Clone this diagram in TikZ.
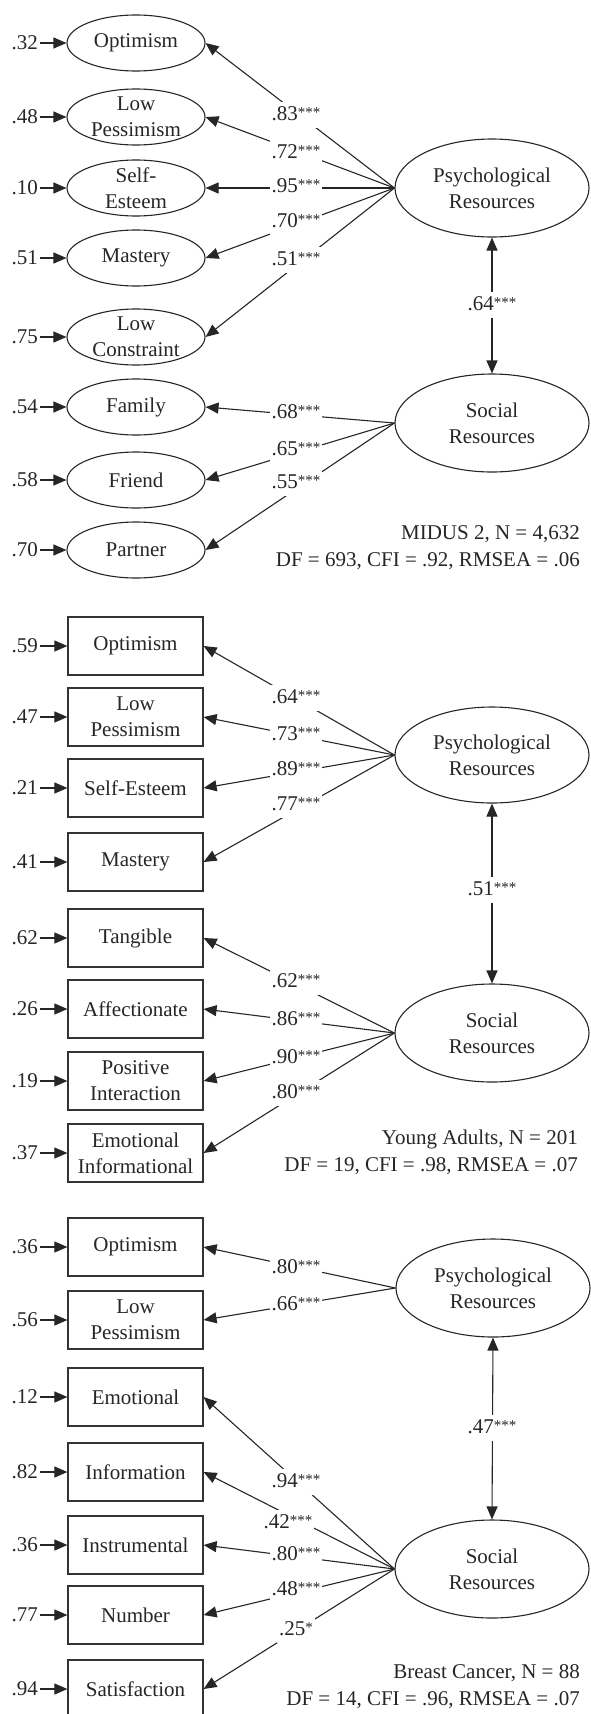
\documentclass[tikz,border=0pt]{standalone}
\usepackage{fontspec}
\setmainfont{Liberation Serif}
\usetikzlibrary{arrows.meta,calc,shapes.geometric}
\newcommand{\sigs}[1]{\raisebox{3pt}{\fontsize{15}{15}\selectfont #1}}
\begin{document}
\begin{tikzpicture}[x=1pt,y=-1pt,
  every node/.style={font=\fontsize{21}{26}\selectfont, text=black!85},
  indell/.style={ellipse, draw=black!85, line width=1.1pt, minimum width=138pt, minimum height=56pt, inner xsep=0pt, inner ysep=-3pt, align=center},
  indbox/.style={rectangle, draw=black!80, line width=1.2pt, minimum width=135pt, minimum height=58pt, inner sep=0pt, align=center},
  lat/.style={ellipse, draw=black!85, line width=1.1pt, minimum width=194pt, minimum height=98pt, inner sep=0pt, align=center},
  err/.style={anchor=east, inner sep=0pt},
  lab/.style={fill=white, text height=14pt, text depth=4pt, inner xsep=2pt, inner ysep=4pt},
  stat/.style={anchor=east, align=right, inner sep=0pt, font=\fontsize{21}{27}\selectfont},
  conn/.style={draw=black!85, line width=1.1pt, -{Triangle[length=13pt,width=11pt]}},
  dconn/.style={draw=black!85, line width=1.1pt, {Triangle[length=13pt,width=11pt]}-{Triangle[length=13pt,width=11pt]}}
]
\useasboundingbox (0,0) rectangle (591,1714);

% ---------------- Panel 1 ----------------
\node[indell] (a1) at (136,43) {Optimism};
\node[indell] (a2) at (136,117) {Low\\Pessimism};
\node[indell] (a3) at (136,188) {Self-\\Esteem};
\node[indell] (a4) at (136,258) {Mastery};
\node[indell] (a5) at (136,337) {Low\\Constraint};
\node[indell] (a6) at (136,407) {Family};
\node[indell] (a7) at (136,480) {Friend};
\node[indell] (a8) at (136,550) {Partner};
\node[err] (ea1) at (38,43) {.32};
\node[err] (ea2) at (38,117) {.48};
\node[err] (ea3) at (38,188) {.10};
\node[err] (ea4) at (38,258) {.51};
\node[err] (ea5) at (38,337) {.75};
\node[err] (ea6) at (38,407) {.54};
\node[err] (ea7) at (38,480) {.58};
\node[err] (ea8) at (38,550) {.70};
\foreach \i in {1,...,8} {\draw[conn] ([xshift=2pt]ea\i.east) -- (a\i.west);}
\node[lat] (PA) at (492,188) {Psychological\\Resources};
\node[lat] (SA) at (492,423) {Social\\Resources};
\foreach \i in {1,...,5} {\draw[conn] (PA.west) -- (a\i.east);}
\foreach \i in {6,7,8} {\draw[conn] (SA.west) -- (a\i.east);}
\draw[dconn] (PA.south) -- (SA.north);
\node[lab] (la1) at (296,115) {.83\sigs{***}};
\node[lab] (la2) at (296,153) {.72\sigs{***}};
\node[lab] (la3) at (296,187) {.95\sigs{***}};
\node[lab] (la4) at (296,222) {.70\sigs{***}};
\node[lab] (la5) at (296,260) {.51\sigs{***}};
\node[lab] (la6) at (296,413) {.68\sigs{***}};
\node[lab] (la7) at (296,450) {.65\sigs{***}};
\node[lab] (la8) at (296,483) {.55\sigs{***}};
\node[lab] (ca) at (492,305) {.64\sigs{***}};
\node[stat] (sta) at (580,548) {MIDUS 2, N = 4,632\\DF = 693, CFI = .92, RMSEA = .06};

% ---------------- Panel 2 ----------------
\node[indbox] (b1) at (135.5,646) {Optimism};
\node[indbox] (b2) at (135.5,717) {Low\\Pessimism};
\node[indbox] (b3) at (135.5,788) {Self-Esteem};
\node[indbox] (b4) at (135.5,862) {Mastery};
\node[indbox] (b5) at (135.5,938) {Tangible};
\node[indbox] (b6) at (135.5,1009) {Affectionate};
\node[indbox] (b7) at (135.5,1081) {Positive\\Interaction};
\node[indbox] (b8) at (135.5,1153) {Emotional\\Informational};
\node[err] (eb1) at (38,646) {.59};
\node[err] (eb2) at (38,717) {.47};
\node[err] (eb3) at (38,788) {.21};
\node[err] (eb4) at (38,862) {.41};
\node[err] (eb5) at (38,938) {.62};
\node[err] (eb6) at (38,1009) {.26};
\node[err] (eb7) at (38,1081) {.19};
\node[err] (eb8) at (38,1153) {.37};
\foreach \i in {1,...,8} {\draw[conn] ([xshift=2pt]eb\i.east) -- (b\i.west);}
\node[lat, minimum height=96pt] (PB) at (492,755) {Psychological\\Resources};
\node[lat] (SB) at (492,1033) {Social\\Resources};
\foreach \i in {1,...,4} {\draw[conn] (PB.west) -- (b\i.east);}
\foreach \i in {5,...,8} {\draw[conn] (SB.west) -- (b\i.east);}
\draw[dconn] (PB.south) -- (SB.north);
\node[lab] (lb1) at (296,698) {.64\sigs{***}};
\node[lab] (lb2) at (296,735) {.73\sigs{***}};
\node[lab] (lb3) at (296,770) {.89\sigs{***}};
\node[lab] (lb4) at (296,805) {.77\sigs{***}};
\node[lab] (lb5) at (296,982) {.62\sigs{***}};
\node[lab] (lb6) at (296,1020) {.86\sigs{***}};
\node[lab] (lb7) at (296,1058) {.90\sigs{***}};
\node[lab] (lb8) at (296,1093) {.80\sigs{***}};
\node[lab] (cb) at (492,890) {.51\sigs{***}};
\node[stat] (stb) at (578,1152) {Young Adults, N = 201\\DF = 19, CFI = .98, RMSEA = .07};

% ---------------- Panel 3 ----------------
\node[indbox] (c1) at (135.5,1247) {Optimism};
\node[indbox] (c2) at (135.5,1320) {Low\\Pessimism};
\node[indbox] (c3) at (135.5,1397) {Emotional};
\node[indbox] (c4) at (135.5,1472) {Information};
\node[indbox] (c5) at (135.5,1545) {Instrumental};
\node[indbox] (c6) at (135.5,1615) {Number};
\node[indbox] (c7) at (135.5,1689) {Satisfaction};
\node[err] (ec1) at (38,1247) {.36};
\node[err] (ec2) at (38,1320) {.56};
\node[err] (ec3) at (38,1397) {.12};
\node[err] (ec4) at (38,1472) {.82};
\node[err] (ec5) at (38,1545) {.36};
\node[err] (ec6) at (38,1615) {.77};
\node[err] (ec7) at (38,1689) {.94};
\foreach \i in {1,...,7} {\draw[conn] ([xshift=2pt]ec\i.east) -- (c\i.west);}
\node[lat] (PC) at (493,1288) {Psychological\\Resources};
\node[lat] (SC) at (492,1569) {Social\\Resources};
\foreach \i in {1,2} {\draw[conn] (PC.west) -- (c\i.east);}
\foreach \i in {3,...,7} {\draw[conn] (SC.west) -- (c\i.east);}
\draw[dconn] (PC.south) -- (SC.north);
\node[lab] (lc1) at (296,1268) {.80\sigs{***}};
\node[lab] (lc2) at (296,1305) {.66\sigs{***}};
\node[lab] (lc3) at (296,1482) {.94\sigs{***}};
\node[lab] (lc4) at (288,1523) {.42\sigs{***}};
\node[lab] (lc5) at (296,1555) {.80\sigs{***}};
\node[lab] (lc6) at (296,1590) {.48\sigs{***}};
\node[lab] (lc7) at (296,1630) {.25\sigs{*}};
\node[lab] (cc) at (492,1428) {.47\sigs{***}};
\node[stat] (stc) at (580,1687) {Breast Cancer, N = 88\\DF = 14, CFI = .96, RMSEA = .07};
\end{tikzpicture}
\end{document}
